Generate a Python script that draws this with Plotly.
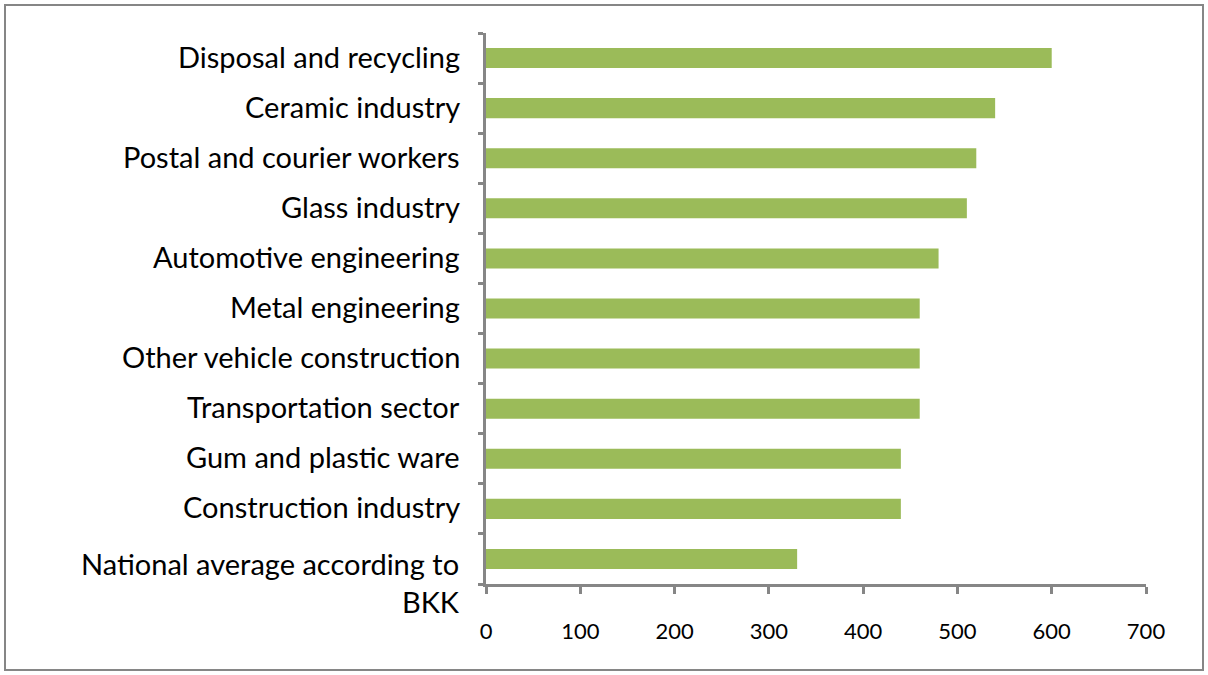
import plotly.graph_objects as go

# Categories listed bottom to top, as drawn on the y axis
categories = [
    "National average according to BKK",
    "Construction industry",
    "Gum and plastic ware",
    "Transportation sector",
    "Other vehicle construction",
    "Metal engineering",
    "Automotive engineering",
    "Glass industry",
    "Postal and courier workers",
    "Ceramic industry",
    "Disposal and recycling",
]
values = [330, 440, 440, 460, 460, 460, 480, 510, 520, 540, 600]
x_ticks = [0, 100, 200, 300, 400, 500, 600, 700]

W, H = 1208, 675
L, R, T, B = 486, 62, 33, 91
pw, ph = W - L - R, H - T - B

AXIS_GREY = "#868686"
BAR_GREEN = "#9BBB59"
FONT = "Lato"
LABEL_SIZE = 29

fig = go.Figure(
    go.Bar(
        y=categories,
        x=values,
        orientation="h",
        marker=dict(color=BAR_GREEN, line=dict(width=0)),
        width=0.4,
        hoverinfo="x+y",
    )
)

# Category labels placed as annotations so the wrapped one keeps its first line beside the bar
for cat in categories:
    words = cat.split(" ")
    if len(cat) > 30:
        text = " ".join(words[:-1]) + "<br>" + words[-1]
        fig.add_annotation(
            x=0, xref="paper", y=cat, yref="y", text=text, showarrow=False,
            xanchor="right", yanchor="top", xshift=-24, yshift=15, align="right",
            font=dict(family=FONT, size=LABEL_SIZE, color="#000000"),
        )
    else:
        fig.add_annotation(
            x=0, xref="paper", y=cat, yref="y", text=cat, showarrow=False,
            xanchor="right", yanchor="middle", xshift=-24, yshift=2,
            font=dict(family=FONT, size=LABEL_SIZE, color="#000000"),
        )

# Outer chart frame
fig.add_shape(
    type="rect", xref="paper", yref="paper",
    x0=(5 - L) / pw, x1=(W - 5 - L) / pw,
    y0=(T + ph - (H - 5)) / ph, y1=(T + ph - 5) / ph,
    line=dict(color=AXIS_GREY, width=2), fillcolor="rgba(0,0,0,0)", layer="below",
)

fig.update_layout(
    width=W, height=H,
    margin=dict(l=L, r=R, t=T, b=B),
    paper_bgcolor="white", plot_bgcolor="white",
    showlegend=False,
    font=dict(family=FONT, color="#000000"),
    xaxis=dict(
        range=[0, 700],
        tickvals=x_ticks,
        ticktext=[str(v) for v in x_ticks],
        showgrid=False, zeroline=False,
        showline=True, linecolor=AXIS_GREY, linewidth=3,
        ticks="outside", ticklen=7, tickwidth=3, tickcolor=AXIS_GREY,
        tickfont=dict(family=FONT, size=22, color="#000000"),
        ticklabelstandoff=19,
    ),
    yaxis=dict(
        categoryorder="array", categoryarray=categories,
        range=[-0.5, len(categories) - 0.5],
        showticklabels=False, showgrid=False, zeroline=False,
        showline=True, linecolor=AXIS_GREY, linewidth=3,
        ticks="outside", tickson="boundaries", ticklen=5, tickwidth=3, tickcolor=AXIS_GREY,
    ),
)

fig.write_html("out.html")
